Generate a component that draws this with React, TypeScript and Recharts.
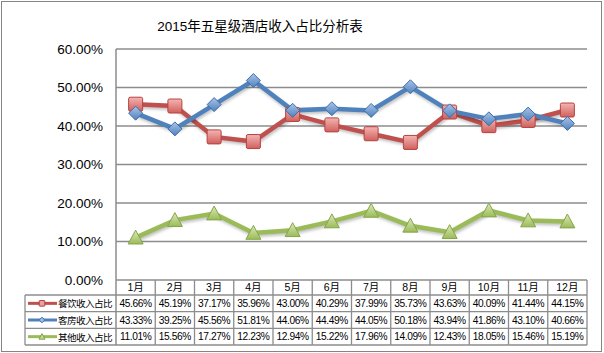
import { CartesianGrid, Line, LineChart, XAxis, YAxis } from "recharts";

const months = ["1月", "2月", "3月", "4月", "5月", "6月", "7月", "8月", "9月", "10月", "11月", "12月"];
const foodShare = [45.66, 45.19, 37.17, 35.96, 43.0, 40.29, 37.99, 35.73, 43.63, 40.09, 41.44, 44.15];
const roomShare = [43.33, 39.25, 45.56, 51.81, 44.06, 44.49, 44.05, 50.18, 43.94, 41.86, 43.1, 40.66];
const otherShare = [11.01, 15.56, 17.27, 12.23, 12.94, 15.22, 17.96, 14.09, 12.43, 18.05, 15.46, 15.19];
const yTicks = [0, 10, 20, 30, 40, 50, 60];

const series = [
  { key: "food", name: "餐饮收入占比", values: foodShare, color: "#C0504D", marker: "square" },
  { key: "room", name: "客房收入占比", values: roomShare, color: "#4F81BD", marker: "diamond" },
  { key: "other", name: "其他收入占比", values: otherShare, color: "#9BBB59", marker: "triangle" },
];

const W = 604;
const H = 353;
const LEFT = 116;
const RIGHT = 17;
const TOP = 49;
const TABLE_H = 73;
const COL_W = (W - LEFT - RIGHT) / 12;
const ROW_LINES = [295, 311.7, 328.3, 345];
const LEGEND_X = 25;
const GRID = "#8c8c8c";
const FONT = "'Liberation Sans', 'Noto Sans CJK SC', sans-serif";

const rows = months.map((m, i) => ({
  month: m,
  food: foodShare[i],
  room: roomShare[i],
  other: otherShare[i],
}));

function fmt(v: number) {
  return `${v.toFixed(2)}%`;
}

function Marker({ cx, cy, kind, small }: { cx: number; cy: number; kind: string; small?: boolean }) {
  if (cx == null || cy == null) return null;
  const s = small ? 0.4 : 1;
  if (kind === "square") {
    const h = 7 * s;
    return (
      <rect x={cx - h} y={cy - h} width={h * 2} height={h * 2} rx={1.5 * s}
        fill={small ? "#E6A3A1" : "url(#gRed)"} stroke="#B5423F" strokeWidth={1} />
    );
  }
  if (kind === "diamond") {
    const h = 7 * s;
    return (
      <polygon points={`${cx},${cy - h} ${cx + h},${cy} ${cx},${cy + h} ${cx - h},${cy}`}
        fill={small ? "#9DBCE4" : "url(#gBlue)"} stroke="#3D6DA8" strokeWidth={1} />
    );
  }
  const h = 7.5 * s;
  return (
    <polygon points={`${cx},${cy - h} ${cx + h},${cy + h * 0.85} ${cx - h},${cy + h * 0.85}`}
      fill={small ? "#C3D69B" : "url(#gGreen)"} stroke="#86A54A" strokeWidth={1} />
  );
}

function TableTick(props: any) {
  const { x, y, payload } = props;
  const i = months.indexOf(payload.value);
  const left = x - COL_W / 2;
  const right = x + COL_W / 2;
  const bottom = ROW_LINES[ROW_LINES.length - 1];
  return (
    <g>
      <line x1={right} y1={y} x2={right} y2={bottom} stroke={GRID} strokeWidth={1.3} />
      {i === 0 && <line x1={left} y1={y} x2={left} y2={bottom} stroke={GRID} strokeWidth={1.5} />}
      {ROW_LINES.map((ly) => (
        <line key={ly} x1={left} y1={ly} x2={right} y2={ly} stroke={GRID} strokeWidth={1.3} />
      ))}
      <text x={x} y={y + 11} textAnchor="middle" fontSize={10.5} fill="#000" fontFamily={FONT}>
        {payload.value}
      </text>
      {series.map((s, r) => (
        <text key={s.key} x={x} y={ROW_LINES[r] + 12} textAnchor="middle" fontSize={10.2}
          fill="#000" fontFamily={FONT} letterSpacing={-0.4}>
          {fmt(s.values[i])}
        </text>
      ))}
      {i === 0 && (
        <g>
          <line x1={LEGEND_X} y1={ROW_LINES[0]} x2={LEGEND_X} y2={bottom} stroke={GRID} strokeWidth={1.3} />
          {ROW_LINES.map((ly) => (
            <line key={ly} x1={LEGEND_X} y1={ly} x2={left} y2={ly} stroke={GRID} strokeWidth={1.3} />
          ))}
          {series.map((s, r) => {
            const cy = (ROW_LINES[r] + ROW_LINES[r + 1]) / 2;
            return (
              <g key={s.key}>
                <line x1={LEGEND_X + 3} y1={cy} x2={LEGEND_X + 32} y2={cy} stroke={s.color} strokeWidth={3} />
                <Marker cx={LEGEND_X + 17} cy={cy} kind={s.marker} small />
                <text x={LEGEND_X + 33} y={cy + 4} fontSize={9.6} fill="#000"
                  fontFamily="'Noto Sans CJK SC', sans-serif" letterSpacing={-0.6}>
                  {s.name}
                </text>
              </g>
            );
          })}
        </g>
      )}
    </g>
  );
}

export default function App() {
  return (
    <div style={{ position: "absolute", left: 0, top: 0, width: W, height: H, background: "#fff" }}>
      <div
        style={{
          position: "absolute",
          left: 1,
          top: 1,
          width: 601,
          height: 351,
          boxSizing: "border-box",
          border: "1.5px solid #858585",
          pointerEvents: "none",
        }}
      />
      <div
        style={{
          position: "absolute",
          left: 0,
          top: 15,
          width: 520,
          textAlign: "center",
          fontSize: 13.5,
          fontFamily: FONT,
          color: "#000",
        }}
      >
        2015年五星级酒店收入占比分析表
      </div>
      <LineChart width={W} height={H} data={rows} margin={{ top: TOP, right: RIGHT, left: 0, bottom: 0 }}>
        <defs>
          <linearGradient id="gRed" x1="0" y1="0" x2="0" y2="1">
            <stop offset="0%" stopColor="#F4B5B3" />
            <stop offset="100%" stopColor="#D0605D" />
          </linearGradient>
          <linearGradient id="gBlue" x1="0" y1="0" x2="0" y2="1">
            <stop offset="0%" stopColor="#A9C4E8" />
            <stop offset="100%" stopColor="#4F81BD" />
          </linearGradient>
          <linearGradient id="gGreen" x1="0" y1="0" x2="0" y2="1">
            <stop offset="0%" stopColor="#DCEAB8" />
            <stop offset="100%" stopColor="#9BBB59" />
          </linearGradient>
        </defs>
        <CartesianGrid vertical={false} stroke={GRID} strokeWidth={1.3} />
        <XAxis
          dataKey="month"
          height={TABLE_H}
          axisLine={false}
          tickLine={false}
          tickSize={0}
          tickMargin={0}
          interval={0}
          padding={{ left: COL_W / 2, right: COL_W / 2 }}
          tick={<TableTick />}
        />
        <YAxis
          width={LEFT}
          domain={[0, 60]}
          ticks={yTicks}
          axisLine={{ stroke: GRID, strokeWidth: 1.5 }}
          tickLine={false}
          tickSize={0}
          tickMargin={13}
          tickFormatter={fmt}
          tick={{ fill: "#000", fontSize: 13.5, fontFamily: FONT }}
        />
        {series.map((s) => (
          <Line
            key={s.key}
            dataKey={s.key}
            type="linear"
            stroke={s.color}
            strokeWidth={4.5}
            isAnimationActive={false}
            style={{ filter: "drop-shadow(1px 2px 1.5px rgba(0,0,0,0.25))" }}
            dot={(p: any) => <Marker key={`${s.key}-${p.index}`} cx={p.cx} cy={p.cy} kind={s.marker} />}
            activeDot={false}
          />
        ))}
      </LineChart>
    </div>
  );
}
